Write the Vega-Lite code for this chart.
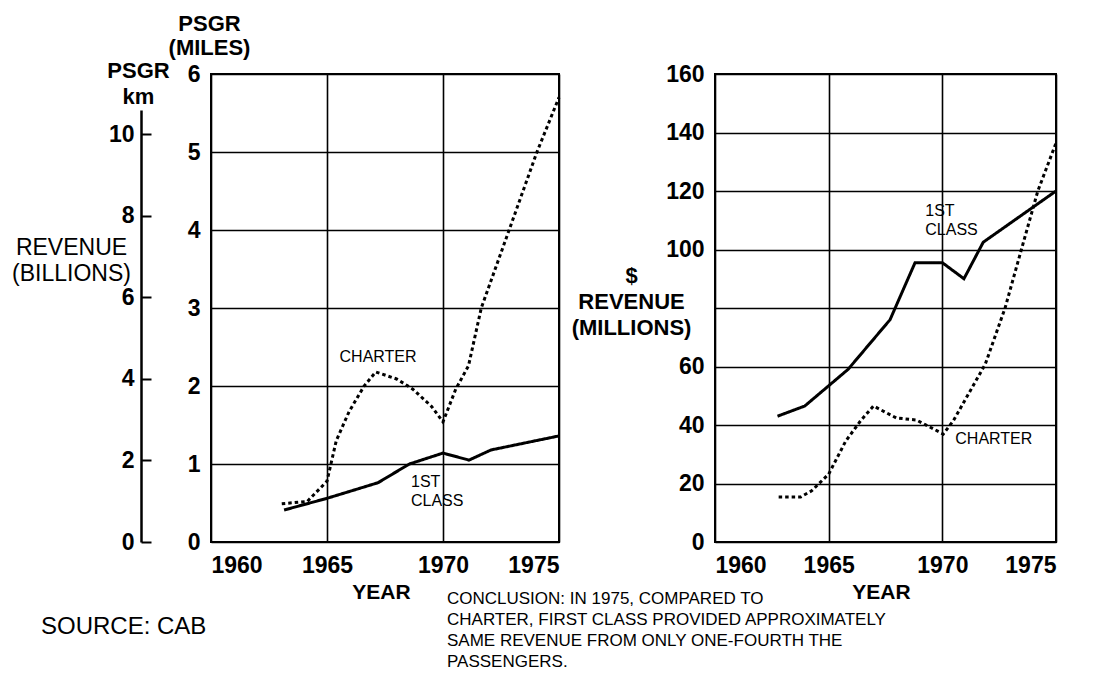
{
  "$schema": "https://vega.github.io/schema/vega-lite/v6.json",
  "padding": {"left": 10, "top": 11, "right": 10, "bottom": 5},
  "background": "white",
  "bounds": "flush",
  "spacing": 156,
  "config": {
    "view": {"stroke": "black", "strokeWidth": 2},
    "font": "Liberation Sans",
    "axis": {
      "labelFont": "Liberation Sans", "labelFontWeight": "bold", "labelFontSize": 23, "labelColor": "black",
      "titleFont": "Liberation Sans", "titleColor": "black",
      "gridColor": "black", "gridOpacity": 1, "gridWidth": 1.6,
      "domain": false, "ticks": false
    },
    "title": {"font": "Liberation Sans", "color": "black"}
  },
  "datasets": {
    "left": [
      {"series": "1ST CLASS", "year": 1963.15, "value": 0.41},
      {"series": "1ST CLASS", "year": 1965.0, "value": 0.56},
      {"series": "1ST CLASS", "year": 1967.2, "value": 0.76},
      {"series": "1ST CLASS", "year": 1968.55, "value": 1.0},
      {"series": "1ST CLASS", "year": 1970.0, "value": 1.14},
      {"series": "1ST CLASS", "year": 1971.12, "value": 1.05},
      {"series": "1ST CLASS", "year": 1972.07, "value": 1.18},
      {"series": "1ST CLASS", "year": 1975.0, "value": 1.36},
      {"series": "CHARTER", "year": 1963.05, "value": 0.49},
      {"series": "CHARTER", "year": 1964.15, "value": 0.52},
      {"series": "CHARTER", "year": 1965.0, "value": 0.78},
      {"series": "CHARTER", "year": 1965.4, "value": 1.3},
      {"series": "CHARTER", "year": 1965.95, "value": 1.67},
      {"series": "CHARTER", "year": 1966.6, "value": 2.0},
      {"series": "CHARTER", "year": 1967.1, "value": 2.18},
      {"series": "CHARTER", "year": 1968.0, "value": 2.09},
      {"series": "CHARTER", "year": 1968.7, "value": 1.96},
      {"series": "CHARTER", "year": 1969.5, "value": 1.74},
      {"series": "CHARTER", "year": 1970.0, "value": 1.54},
      {"series": "CHARTER", "year": 1970.55, "value": 1.96},
      {"series": "CHARTER", "year": 1971.1, "value": 2.26},
      {"series": "CHARTER", "year": 1971.65, "value": 3.0},
      {"series": "CHARTER", "year": 1972.85, "value": 4.0},
      {"series": "CHARTER", "year": 1974.05, "value": 5.0},
      {"series": "CHARTER", "year": 1975.0, "value": 5.7}
    ],
    "right": [
      {"series": "1ST CLASS", "year": 1962.75, "value": 43},
      {"series": "1ST CLASS", "year": 1963.95, "value": 46.5},
      {"series": "1ST CLASS", "year": 1965.85, "value": 59},
      {"series": "1ST CLASS", "year": 1967.7, "value": 76},
      {"series": "1ST CLASS", "year": 1968.8, "value": 95.5},
      {"series": "1ST CLASS", "year": 1970.0, "value": 95.5},
      {"series": "1ST CLASS", "year": 1970.95, "value": 90},
      {"series": "1ST CLASS", "year": 1971.8, "value": 102.5},
      {"series": "1ST CLASS", "year": 1975.0, "value": 120},
      {"series": "CHARTER", "year": 1962.8, "value": 15.4},
      {"series": "CHARTER", "year": 1963.77, "value": 15.4},
      {"series": "CHARTER", "year": 1964.25, "value": 17.5},
      {"series": "CHARTER", "year": 1965.0, "value": 23.2},
      {"series": "CHARTER", "year": 1965.75, "value": 34.5},
      {"series": "CHARTER", "year": 1966.4, "value": 41.4},
      {"series": "CHARTER", "year": 1966.97, "value": 46.5},
      {"series": "CHARTER", "year": 1967.98, "value": 42.4},
      {"series": "CHARTER", "year": 1968.86, "value": 41.7},
      {"series": "CHARTER", "year": 1970.04, "value": 36.9},
      {"series": "CHARTER", "year": 1970.48, "value": 41.4},
      {"series": "CHARTER", "year": 1971.89, "value": 60.8},
      {"series": "CHARTER", "year": 1972.76, "value": 80},
      {"series": "CHARTER", "year": 1973.46, "value": 99.5},
      {"series": "CHARTER", "year": 1974.2, "value": 120},
      {"series": "CHARTER", "year": 1975.0, "value": 136.4}
    ],
    "leftNotes": [
      {"label": "CHARTER", "year": 1965.54, "value": 2.37},
      {"label": "1ST", "year": 1968.62, "value": 0.77},
      {"label": "CLASS", "year": 1968.62, "value": 0.53}
    ],
    "rightNotes": [
      {"label": "1ST", "year": 1969.25, "value": 113.2},
      {"label": "CLASS", "year": 1969.25, "value": 106.7},
      {"label": "CHARTER", "year": 1970.57, "value": 35.2}
    ],
    "kmAxis": [{"year": 1960, "km": 0}, {"year": 1960, "km": 10.6}],
    "revAxis": [{"year": 1960, "rev": 0}, {"year": 1960, "rev": 1}]
  },
  "hconcat": [
    {
      "width": 348,
      "height": 468,
      "title": {"text": "SOURCE:  CAB", "orient": "bottom", "anchor": "start", "frame": "group", "dx": -170, "dy": 9, "fontSize": 24, "fontWeight": "normal"},
      "layer": [
        {
          "data": {"name": "left"},
          "mark": {"type": "line", "strokeWidth": 3, "color": "black", "strokeCap": "butt"},
          "encoding": {
            "x": {"field": "year", "type": "quantitative",
              "scale": {"domain": [1960, 1975], "nice": false, "zero": false},
              "axis": {"values": [1960, 1965, 1970, 1975], "format": "d", "grid": true, "labelPadding": 12,
                "title": "YEAR", "titleFontSize": 21, "titleFontWeight": "bold", "titleX": 170, "titleY": 50, "titleBaseline": "middle", "titleAlign": "center"}},
            "y": {"field": "value", "type": "quantitative",
              "scale": {"domain": [0, 6], "nice": false},
              "axis": {"values": [0, 1, 2, 3, 4, 5, 6], "grid": true, "labelPadding": 11,
                "title": ["PSGR", "(MILES)"], "titleAngle": 0, "titleAlign": "center", "titleX": -2, "titleY": -44,
                "titleBaseline": "alphabetic", "titleFontSize": 22, "titleFontWeight": "bold", "titleLineHeight": 24}},
            "strokeDash": {"field": "series", "type": "nominal",
              "scale": {"domain": ["1ST CLASS", "CHARTER"], "range": [[1, 0], [3.5, 3]]}, "legend": null}
          }
        },
        {
          "data": {"name": "leftNotes"},
          "mark": {"type": "text", "fontSize": 16, "baseline": "middle", "align": "left", "color": "black", "font": "Liberation Sans"},
          "encoding": {
            "x": {"field": "year", "type": "quantitative"},
            "y": {"field": "value", "type": "quantitative", "scale": {"domain": [0, 6], "nice": false}, "axis": null},
            "text": {"field": "label"}
          }
        },
        {
          "data": {"name": "kmAxis"},
          "mark": {"type": "point", "opacity": 0},
          "encoding": {
            "x": {"field": "year", "type": "quantitative"},
            "y": {"field": "km", "type": "quantitative",
              "scale": {"domain": [0, 10.6], "range": [468, 36], "nice": false},
              "axis": {"orient": "left", "offset": 70, "domain": true, "domainColor": "black", "domainWidth": 2.5,
                "ticks": true, "tickColor": "black", "tickWidth": 2, "tickSize": -10, "values": [0, 2, 4, 6, 8, 10],
                "labelPadding": 17, "grid": false,
                "title": ["PSGR", "km"], "titleAngle": 0, "titleAlign": "center", "titleX": -3, "titleY": 3,
                "titleBaseline": "alphabetic", "titleFontSize": 22, "titleFontWeight": "bold", "titleLineHeight": 26}}
          }
        },
        {
          "data": {"name": "revAxis"},
          "mark": {"type": "point", "opacity": 0},
          "encoding": {
            "x": {"field": "year", "type": "quantitative"},
            "y": {"field": "rev", "type": "quantitative",
              "scale": {"domain": [0, 1], "nice": false},
              "axis": {"orient": "left", "offset": 70, "domain": false, "ticks": false, "labels": false, "grid": false,
                "title": ["REVENUE", "(BILLIONS)"], "titleAngle": 0, "titleAlign": "center", "titleX": -70, "titleY": 180,
                "titleBaseline": "alphabetic", "titleFontSize": 23, "titleFontWeight": "normal", "titleLineHeight": 26}}
          }
        }
      ],
      "resolve": {"scale": {"y": "independent"}, "axis": {"y": "independent"}}
    },
    {
      "width": 341,
      "height": 468,
      "title": {"text": ["CONCLUSION:  IN 1975, COMPARED TO", "CHARTER, FIRST CLASS PROVIDED APPROXIMATELY", "SAME REVENUE FROM ONLY ONE-FOURTH THE", "PASSENGERS."],
        "orient": "bottom", "anchor": "start", "frame": "group", "dx": -268, "dy": -15, "fontSize": 17, "fontWeight": "normal", "lineHeight": 21},
      "layer": [
        {
          "data": {"name": "right"},
          "mark": {"type": "line", "strokeWidth": 3, "color": "black", "strokeCap": "butt"},
          "encoding": {
            "x": {"field": "year", "type": "quantitative",
              "scale": {"domain": [1960, 1975], "nice": false, "zero": false},
              "axis": {"values": [1960, 1965, 1970, 1975], "format": "d", "grid": true, "labelPadding": 12,
                "title": "YEAR", "titleFontSize": 21, "titleFontWeight": "bold", "titleX": 166, "titleY": 50, "titleBaseline": "middle", "titleAlign": "center"}},
            "y": {"field": "value", "type": "quantitative",
              "scale": {"domain": [0, 160], "nice": false},
              "axis": {"values": [0, 20, 40, 60, 80, 100, 120, 140, 160], "grid": true, "labelPadding": 11,
                "labelExpr": "datum.value == 80 ? '' : datum.label",
                "title": ["$", "REVENUE", "(MILLIONS)"], "titleAngle": 0, "titleAlign": "center", "titleX": -84, "titleY": 208,
                "titleBaseline": "alphabetic", "titleFontSize": 22, "titleFontWeight": "bold", "titleLineHeight": 26}},
            "strokeDash": {"field": "series", "type": "nominal",
              "scale": {"domain": ["1ST CLASS", "CHARTER"], "range": [[1, 0], [3.5, 3]]}, "legend": null}
          }
        },
        {
          "data": {"name": "rightNotes"},
          "mark": {"type": "text", "fontSize": 16, "baseline": "middle", "align": "left", "color": "black", "font": "Liberation Sans"},
          "encoding": {
            "x": {"field": "year", "type": "quantitative"},
            "y": {"field": "value", "type": "quantitative"},
            "text": {"field": "label"}
          }
        }
      ]
    }
  ]
}
